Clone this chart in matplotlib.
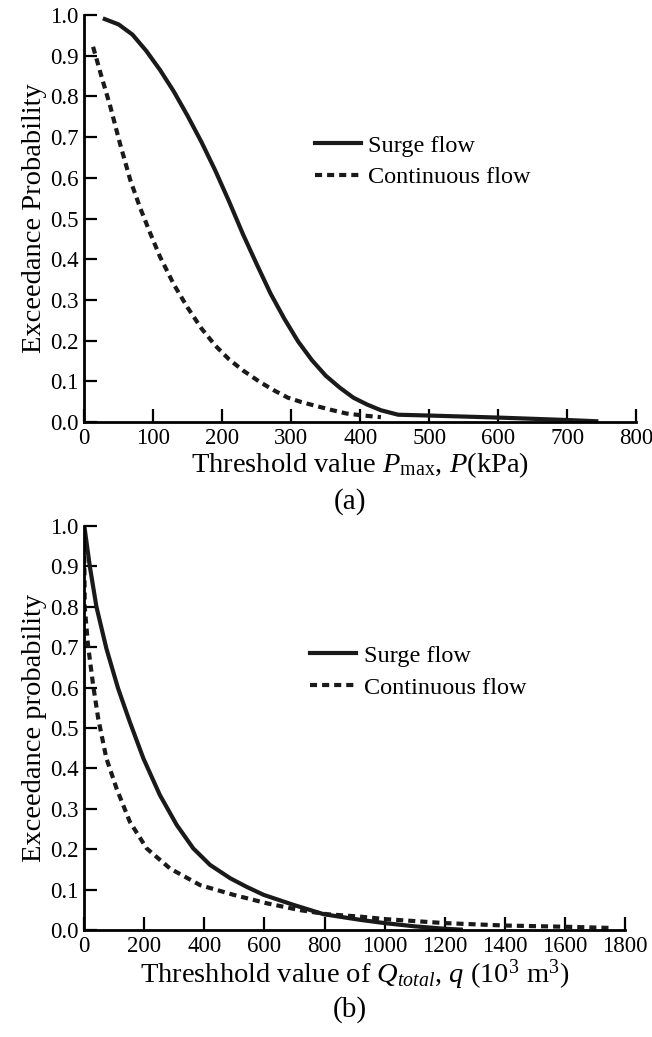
import numpy as np
import matplotlib
matplotlib.use("Agg")
import matplotlib.pyplot as plt

plt.rcParams["font.family"] = ["Liberation Serif", "DejaVu Serif"]
plt.rcParams["mathtext.fontset"] = "custom"
plt.rcParams["mathtext.rm"] = "Liberation Serif"
plt.rcParams["mathtext.it"] = "Liberation Serif:italic"

# (a) peak pressure, kPa
p_surge = [30, 50, 70, 90, 110, 130, 150, 170, 190, 210, 230, 250, 270, 290,
           310, 330, 350, 370, 390, 410, 430, 455, 500, 600, 700, 742]
e_surge_a = [0.99, 0.977, 0.952, 0.912, 0.865, 0.812, 0.752, 0.688, 0.618,
             0.542, 0.462, 0.388, 0.316, 0.254, 0.198, 0.152, 0.114, 0.085,
             0.06, 0.043, 0.029, 0.018, 0.016, 0.011, 0.005, 0.002]
p_cont = [13, 25, 38, 52, 67, 81, 96, 110, 130, 150, 170, 190, 210, 230, 255,
          275, 295, 315, 335, 360, 380, 405, 430]
e_cont_a = [0.922, 0.85, 0.775, 0.684, 0.594, 0.527, 0.463, 0.406, 0.338,
            0.281, 0.23, 0.188, 0.154, 0.127, 0.098, 0.078, 0.06, 0.049, 0.04,
            0.029, 0.021, 0.016, 0.012]

# (b) total volume, 10^3 m^3
q_surge = [2, 19, 41, 74, 113, 152, 197, 252, 308, 363, 419, 486, 540, 597,
           697, 797, 919, 1000, 1100, 1200, 1253]
e_surge_b = [0.993, 0.90, 0.80, 0.697, 0.598, 0.515, 0.425, 0.334, 0.26, 0.202,
             0.161, 0.128, 0.107, 0.087, 0.062, 0.039, 0.025, 0.017, 0.009,
             0.003, 0.001]
q_cont = [0, 2, 13, 30, 47, 74, 108, 152, 208, 286, 386, 497, 608, 719, 808,
          919, 1000, 1200, 1400, 1600, 1753]
e_cont_b = [0.985, 0.80, 0.705, 0.606, 0.523, 0.425, 0.35, 0.268, 0.202, 0.152,
            0.111, 0.087, 0.066, 0.049, 0.039, 0.033, 0.027, 0.017, 0.011,
            0.008, 0.005]

DASH = (0, (1.7, 1.2))

fig = plt.figure(figsize=(6.52, 10.37), dpi=100)
ax1 = fig.add_axes([0.129, 0.593, 0.847, 0.3925])
ax2 = fig.add_axes([0.129, 0.1032, 0.830, 0.3896])


def style(ax, xmax, xstep, ylabel, xlabel):
    ax.set_xlim(0, xmax)
    ax.set_ylim(0, 1.0)
    ax.set_xticks(np.arange(0, xmax + 1, xstep))
    ax.set_yticks(np.arange(0, 1.01, 0.1))
    ax.set_yticklabels([f"{v:.1f}" for v in np.arange(0, 1.01, 0.1)])
    for s in ("top", "right"):
        ax.spines[s].set_visible(False)
    for s in ("left", "bottom"):
        ax.spines[s].set_linewidth(2)
    ax.tick_params(direction="in", length=9.5, width=1.6, labelsize=16.5, pad=4)
    ax.set_ylabel(ylabel, fontsize=20.5, labelpad=2)
    ax.set_xlabel(xlabel, fontsize=20.5, labelpad=1)
    ax.legend(loc="upper left", bbox_to_anchor=(0.4, 0.73), frameon=False,
              fontsize=17.5, handlelength=1.9, handletextpad=0.3,
              labelspacing=0.4, borderaxespad=0)


ax1.plot(p_surge, e_surge_a, color="#1a1a1a", lw=3, label="Surge flow")
ax1.plot(p_cont, e_cont_a, color="#1a1a1a", lw=3, ls=DASH,
         label="Continuous flow")
style(ax1, 800, 100, "Exceedance Probability",
      r"Threshold value $P_{\mathrm{max}}$, $P$(kPa)")

ax2.plot(q_surge, e_surge_b, color="#1a1a1a", lw=3, label="Surge flow")
ax2.plot(q_cont, e_cont_b, color="#1a1a1a", lw=3, ls=DASH,
         label="Continuous flow")
style(ax2, 1800, 200, "Exceedance probability",
      r"Threshhold value of $Q_{total}$, $q$ (10$^3$ m$^3$)")

fig.text(0.537, 1 - 502 / 1037, "(a)", ha="center", va="center", fontsize=21)
fig.text(0.537, 1 - 1010 / 1037, "(b)", ha="center", va="center", fontsize=21)

fig.savefig("out.png", dpi=100)
